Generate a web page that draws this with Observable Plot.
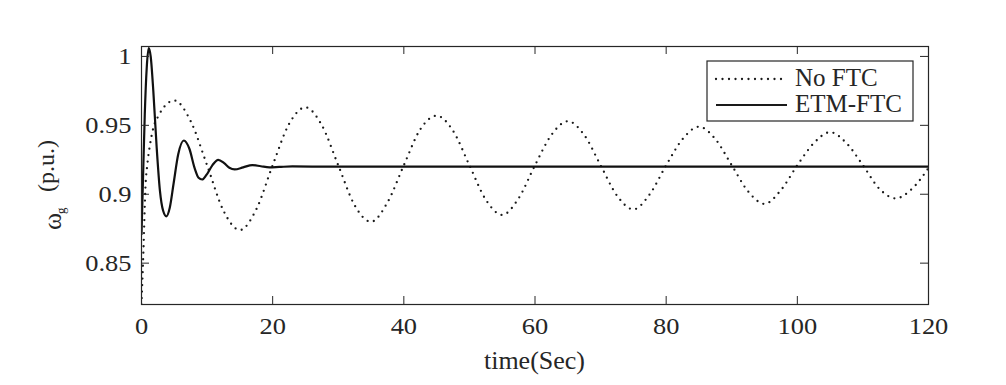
<!DOCTYPE html>
<html><head><meta charset="utf-8">
<script src="https://cdn.jsdelivr.net/npm/d3@7"></script>
<script src="https://cdn.jsdelivr.net/npm/@observablehq/plot@0.6"></script>
<style>body{margin:0;background:#fff} svg{display:block}</style>
</head><body><div id="chart"></div>
<script>
// ---- data ----
const seriesNames = ["No FTC", "ETM-FTC"];
const noFtcTime  = [0, 0.3, 0.6, 0.9, 1.3, 1.8, 2.6, 3.75, 5, 7.5, 10, 12.5, 15, 17.5, 20, 22.5, 25, 27.5, 30, 32.5, 35, 37.5, 40, 42.5, 45, 47.5, 50, 52.5, 55, 57.5, 60, 62.5, 65, 67.5, 70, 72.5, 75, 77.5, 80, 82.5, 85, 87.5, 90, 92.5, 95, 97.5, 100, 102.5, 105, 107.5, 110, 112.5, 115, 117.5, 120];
const noFtcValue = [0.82, 0.86, 0.905, 0.922, 0.936, 0.948, 0.957, 0.965, 0.968, 0.953, 0.921, 0.888, 0.874, 0.889, 0.921, 0.951, 0.963, 0.950, 0.921, 0.892, 0.880, 0.894, 0.921, 0.947, 0.957, 0.946, 0.921, 0.896, 0.885, 0.897, 0.921, 0.943, 0.953, 0.943, 0.921, 0.899, 0.889, 0.900, 0.921, 0.940, 0.949, 0.940, 0.921, 0.902, 0.893, 0.903, 0.921, 0.937, 0.945, 0.937, 0.921, 0.904, 0.897, 0.904, 0.919];
const etmTime  = [0, 0.25, 0.5, 0.8, 1.1, 1.4, 1.8, 2.3, 2.8, 3.3, 3.8, 4.3, 4.9, 5.6, 6.45, 7.3, 8.1, 8.7, 9.25, 9.9, 10.8, 11.7, 12.6, 13.4, 14.2, 15.5, 16.9, 18.2, 19.5, 21, 23, 26, 30, 40, 60, 80, 100, 120];
const etmValue = [0.871, 0.915, 0.958, 0.992, 1.006, 1.0, 0.975, 0.935, 0.903, 0.888, 0.884, 0.89, 0.908, 0.929, 0.939, 0.933, 0.919, 0.912, 0.9107, 0.914, 0.921, 0.925, 0.9225, 0.9192, 0.918, 0.9195, 0.9212, 0.9203, 0.9195, 0.9198, 0.9202, 0.9201, 0.920, 0.920, 0.920, 0.920, 0.920, 0.920];
const xTicks = [0, 20, 40, 60, 80, 100, 120];
const yTicks = [0.85, 0.9, 0.95, 1];
const xDomain = [0, 120];
const yDomain = [0.82, 1.0072];
const xLabel = "time(Sec)";
const yLabelParts = ["ω", "g", "(p.u.)"];

// ---- build tables ----
const noFtc = noFtcTime.map((t, i) => ({t, v: noFtcValue[i]}));
const etm = etmTime.map((t, i) => ({t, v: etmValue[i]}));

const W = 1006, H = 385, mL = 141, mR = 78, mT = 46, mB = 81;
const ph = H - mT - mB, pw = W - mL - mR;
const font = "'Liberation Serif','Times New Roman',serif";
const ink = "#262626";
const dotDash = "0,6.5";

const plot = Plot.plot({
  width: W, height: H,
  marginLeft: mL, marginRight: mR, marginTop: mT, marginBottom: mB,
  style: {fontFamily: font, fontSize: "23px", color: ink, background: "#fff"},
  x: {domain: xDomain},
  y: {domain: yDomain},
  marks: [
    Plot.line(noFtc, {x: "t", y: "v", curve: "monotone-x", stroke: "#1a1a1a", strokeWidth: 2.3, strokeDasharray: dotDash, strokeLinecap: "round", clip: true}),
    Plot.line(etm, {x: "t", y: "v", curve: "monotone-x", stroke: "#111", strokeWidth: 2.2, clip: true}),
    Plot.frame({stroke: ink, strokeWidth: 1.2}),
    Plot.tickX(xTicks, {x: d => d, insetTop: ph - 8, stroke: ink}),
    Plot.tickX(xTicks, {x: d => d, insetBottom: ph - 8, stroke: ink}),
    Plot.tickY(yTicks, {y: d => d, insetRight: pw - 8, stroke: ink}),
    Plot.tickY(yTicks, {y: d => d, insetLeft: pw - 8, stroke: ink}),
    Plot.axisX(xTicks, {tickSize: 0, tickPadding: 13, fontSize: 23, fontFamily: font, label: null, tickFormat: d => String(d)}),
    Plot.axisY(yTicks, {tickSize: 0, tickPadding: 10, fontSize: 23, fontFamily: font, label: null, tickFormat: d => String(d)})
  ]
});
document.getElementById("chart").appendChild(plot);

const svg = d3.select(plot);
// the reference's tick labels are slightly wide: stretch them horizontally about their anchor
svg.selectAll('g[aria-label="x-axis tick label"] text, g[aria-label="y-axis tick label"] text')
  .attr("transform", function () { return (this.getAttribute("transform") || "") + " scale(1.15,1)"; });

// x label
svg.append("text").attr("x", (mL + W - mR) / 2).attr("y", 369)
  .attr("text-anchor", "middle").attr("font-family", font).attr("font-size", 26).attr("fill", ink)
  .text(xLabel);
// y label: omega_g (p.u.)
const yl = svg.append("g").attr("font-family", font).attr("fill", ink).attr("text-anchor", "start");
yl.append("text").attr("text-anchor", "start").attr("transform", "translate(61,230) rotate(-90)").attr("font-size", 26).text(yLabelParts[0]);
yl.append("text").attr("text-anchor", "start").attr("transform", "translate(65,214) rotate(-90)").attr("font-size", 13).text(yLabelParts[1]);
yl.append("text").attr("text-anchor", "start").attr("transform", "translate(54,192) rotate(-90)").attr("font-size", 24).text(yLabelParts[2]);

// legend
const lg = svg.append("g").attr("text-anchor", "start");
lg.append("rect").attr("x", 707).attr("y", 61).attr("width", 206).attr("height", 60)
  .attr("fill", "#fff").attr("stroke", ink).attr("stroke-width", 1.2);
const legendRows = [
  {name: seriesNames[0], y: 79, dash: dotDash, w: 2.3, base: 86},
  {name: seriesNames[1], y: 105, dash: null, w: 2.2, base: 112}
];
legendRows.forEach(r => {
  lg.append("line").attr("x1", 716).attr("x2", 787).attr("y1", r.y).attr("y2", r.y)
    .attr("stroke", "#1a1a1a").attr("stroke-width", r.w)
    .attr("stroke-dasharray", r.dash).attr("stroke-linecap", r.dash ? "round" : "butt");
  lg.append("text").attr("text-anchor", "start").attr("x", 795).attr("y", r.base).attr("font-family", font)
    .attr("font-size", 25).attr("fill", ink).text(r.name);
});
</script>
</body></html>
